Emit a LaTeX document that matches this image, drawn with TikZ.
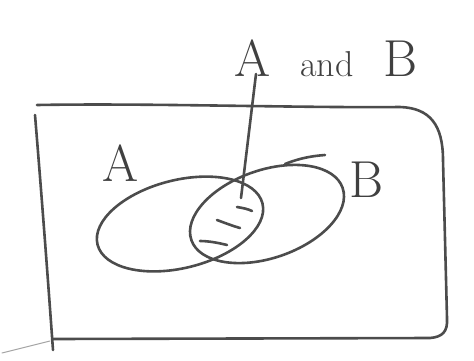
\documentclass[tikz,border=0pt]{standalone}
\begin{document}
\begin{tikzpicture}[x=1pt,y=-1pt,
  pen/.style={draw=black!70,line width=2.6pt,line cap=round,line join=round},
  thinpen/.style={draw=black!35,line width=1pt,line cap=round},
  lab/.style={text=black!75,font=\fontsize{52}{52}\selectfont}]
\useasboundingbox (0,0) rectangle (474,360);
% universe box
\draw[pen] (37,105) .. controls (150,103) and (300,108) .. (400,107)
  .. controls (430,108) and (443,125) .. (443,160)
  -- (447,318) .. controls (448,332) and (442,337) .. (430,338)
  -- (53,339);
\draw[pen] (35,115) .. controls (42,200) and (48,280) .. (53,350);
\draw[thinpen] (2,353) -- (50,341);
% sets
\draw[pen,rotate around={14:(180,224)}] (180,224) ellipse [x radius=85, y radius=44];
\draw[pen,rotate around={19:(267,214)}] (267,214) ellipse [x radius=80, y radius=44];
\draw[pen] (285,164) .. controls (300,158) and (312,156) .. (325,155);
% shading strokes
\draw[pen] (237,207) .. controls (243,208) and (248,209) .. (252,211);
\draw[pen] (217,220) .. controls (225,223) and (233,226) .. (240,228);
\draw[pen] (200,241) .. controls (209,241) and (219,243) .. (227,245);
% labels
\node[lab] (labA) at (121,163) {A};
\node[lab] (labB) at (366,180) {B};
\node[lab,anchor=base] (title) at (326,76) {A\hspace{14pt} {\fontsize{36}{36}\selectfont and}\hspace{14pt} B};
\coordinate (ptop) at (256,74);
\coordinate (pin) at (241,198);
\draw[pen] (ptop) -- (pin);
\end{tikzpicture}
\end{document}
